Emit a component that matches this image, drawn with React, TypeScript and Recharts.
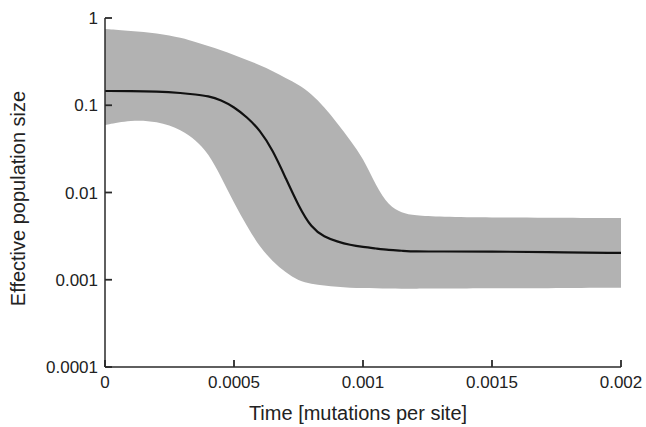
import React from 'react';
import { ComposedChart, Area, Line, XAxis, YAxis } from 'recharts';

const times = [0, 0.0001, 0.0002, 0.0003, 0.00035, 0.0004, 0.00045, 0.0005, 0.00055, 0.0006, 0.00065, 0.0007, 0.00075, 0.0008, 0.00085, 0.0009, 0.00095, 0.001, 0.00105, 0.0011, 0.00115, 0.0012, 0.0013, 0.0015, 0.0017, 0.002];
const upper = [0.748, 0.71, 0.673, 0.59, 0.531, 0.478, 0.43, 0.377, 0.33, 0.289, 0.247, 0.205, 0.173, 0.135, 0.0955, 0.0626, 0.04, 0.0249, 0.0119, 0.007, 0.00582, 0.00545, 0.00526, 0.00518, 0.00514, 0.0051];
const lower = [0.0594, 0.0678, 0.066, 0.052, 0.04, 0.0284, 0.0151, 0.0076, 0.00413, 0.00237, 0.00162, 0.00121, 0.00097, 0.000894, 0.00086, 0.000826, 0.00081, 0.000805, 0.0008, 0.00079, 0.00079, 0.00079, 0.00079, 0.0008, 0.0008, 0.00081];
const median = [0.1457, 0.1457, 0.144, 0.138, 0.133, 0.1277, 0.115, 0.0955, 0.0733, 0.052, 0.0307, 0.0147, 0.007, 0.00392, 0.00309, 0.00274, 0.0025, 0.00237, 0.00228, 0.00219, 0.00215, 0.0021, 0.00211, 0.00211, 0.00207, 0.00203];

const xTicks = [0, 0.0005, 0.001, 0.0015, 0.002];
const xTickLabels = ['0', '0.0005', '0.001', '0.0015', '0.002'];
const yTicks = [0.0001, 0.001, 0.01, 0.1, 1];
const yTickLabels = ['0.0001', '0.001', '0.01', '0.1', '1'];

const xTitle = 'Time [mutations per site]';
const yTitle = 'Effective population size';

const data = times.map((t, i) => ({ t, band: [lower[i], upper[i]], median: median[i] }));

const FONT = '"Liberation Sans", Arial, sans-serif';
const AXIS = '#2a2a2a';
const TEXT = '#222';

const XTitle = (props: any) => {
  const vb = props.viewBox;
  const cx = vb.x + vb.width / 2 - 5;
  return (
    <text x={cx} y={420} textAnchor="middle" fontSize={20} fill={TEXT} fontFamily={FONT}>
      {xTitle}
    </text>
  );
};

const YTitle = (props: any) => {
  const vb = props.viewBox;
  const cx = 25;
  const cy = vb.y + vb.height / 2 + 6;
  return (
    <text x={cx} y={cy} transform={`rotate(-90 ${cx} ${cy})`} textAnchor="middle" fontSize={20} fill={TEXT} fontFamily={FONT}>
      {yTitle}
    </text>
  );
};

const XTick = (props: any) => {
  const x = Number(props.x);
  const y = Number(props.y);
  const i = Number(props.index);
  const label = xTickLabels[i] ?? String(props.payload?.value);
  return (
    <g>
      <line x1={x} y1={y - 16} x2={x} y2={y - 9} stroke={AXIS} strokeWidth={1.8} />
      <text x={x} y={y} dy="0.71em" textAnchor="middle" fontSize={17} fill={TEXT} fontFamily={FONT}>
        {label}
      </text>
    </g>
  );
};

const YTick = (props: any) => {
  const x = Number(props.x);
  const y = Number(props.y);
  const i = Number(props.index);
  const label = yTickLabels[i] ?? String(props.payload?.value);
  return (
    <g>
      <line x1={x + 7} y1={y} x2={x + 14} y2={y} stroke={AXIS} strokeWidth={1.8} />
      <text x={x} y={y} dy="0.355em" textAnchor="end" fontSize={17} fill={TEXT} fontFamily={FONT}>
        {label}
      </text>
    </g>
  );
};

export default function App() {
  return (
    <div style={{ position: 'absolute', left: 0, top: 0, background: '#fff' }}>
      <ComposedChart
        width={646}
        height={427}
        data={data}
        margin={{ top: 18, right: 25, bottom: 0, left: 0 }}
      >
        <Area
          dataKey="band"
          type="basis"
          stroke="none"
          fill="#b2b2b2"
          fillOpacity={1}
          isAnimationActive={false}
          dot={false}
          activeDot={false}
        />
        <Line
          dataKey="median"
          type="basis"
          stroke="#111"
          strokeWidth={2.2}
          dot={false}
          activeDot={false}
          isAnimationActive={false}
        />
        <XAxis
          dataKey="t"
          type="number"
          domain={[0, 0.002]}
          ticks={xTicks}
          height={60}
          tickSize={0}
          tickMargin={9}
          axisLine={{ stroke: AXIS, strokeWidth: 1.5 }}
          tickLine={false}
          tick={(p: any) => <XTick {...p} />}
          label={<XTitle />}
          interval={0}
        />
        <YAxis
          type="number"
          scale="log"
          domain={[0.0001, 1]}
          ticks={yTicks}
          allowDataOverflow
          width={105}
          tickSize={0}
          tickMargin={7}
          axisLine={{ stroke: AXIS, strokeWidth: 1.5 }}
          tickLine={false}
          tick={(p: any) => <YTick {...p} />}
          label={<YTitle />}
          interval={0}
        />
      </ComposedChart>
    </div>
  );
}
